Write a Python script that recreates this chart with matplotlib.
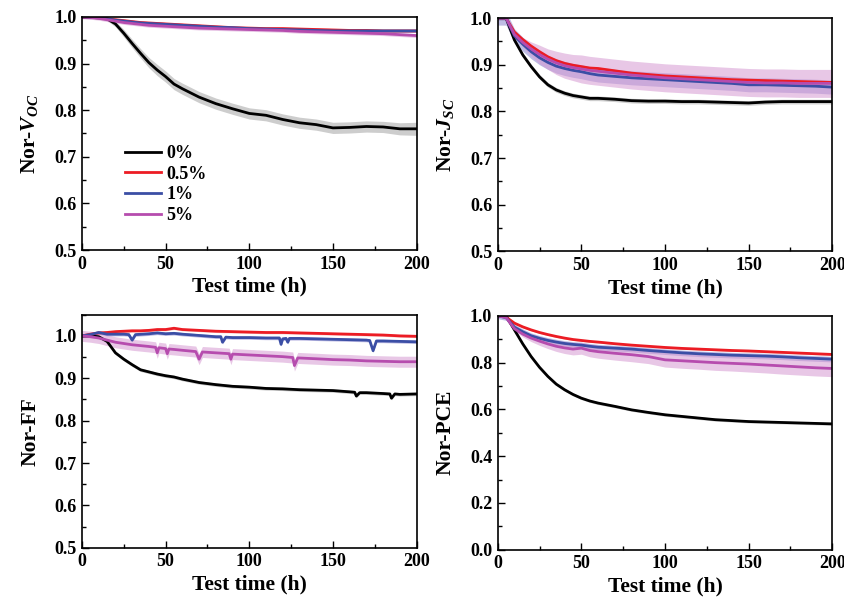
import numpy as np
import matplotlib
matplotlib.use("Agg")
import matplotlib.pyplot as plt
from matplotlib.ticker import MultipleLocator

plt.rcParams["font.family"] = "Liberation Serif"
plt.rcParams["font.weight"] = "bold"
plt.rcParams["mathtext.fontset"] = "custom"
plt.rcParams["mathtext.it"] = "Liberation Serif:bold:italic"
plt.rcParams["mathtext.rm"] = "Liberation Serif:bold"

LABELS = ["0%", "0.5%", "1%", "5%"]
COLORS = ["black", "#ec1c24", "#3b4ea5", "#b64cae"]
BAND_COLORS = ["#a4a4a4", "#f08a8a", "#8a86cf", "#d69ad2"]

T = [0, 5, 10, 15, 20, 25, 30, 35, 40, 45, 50, 55, 60, 70, 80, 90, 100,
     110, 120, 130, 140, 150, 160, 170, 180, 190, 200]

# --- normalised Voc ---
VOC_0 = [1.0, 1.0, 0.999, 0.996, 0.985, 0.965, 0.943, 0.922, 0.902, 0.886, 0.872, 0.856, 0.846, 0.828,
         0.814, 0.803, 0.793, 0.789, 0.780, 0.773, 0.769, 0.762, 0.763, 0.765, 0.764, 0.760, 0.760]
VOC_05 = [1.0, 0.999, 0.998, 0.996, 0.994, 0.992, 0.990, 0.988, 0.987, 0.986, 0.985, 0.984, 0.983, 0.981,
          0.979, 0.977, 0.976, 0.975, 0.975, 0.974, 0.973, 0.972, 0.971, 0.971, 0.970, 0.970, 0.970]
VOC_1 = [1.0, 0.999, 0.998, 0.996, 0.993, 0.991, 0.989, 0.987, 0.986, 0.985, 0.984, 0.983, 0.982, 0.980,
         0.978, 0.977, 0.975, 0.974, 0.973, 0.972, 0.971, 0.970, 0.970, 0.970, 0.970, 0.970, 0.970]
VOC_5 = [1.0, 0.999, 0.997, 0.994, 0.991, 0.988, 0.986, 0.984, 0.982, 0.981, 0.980, 0.979, 0.978, 0.976,
         0.975, 0.974, 0.973, 0.972, 0.971, 0.969, 0.968, 0.967, 0.966, 0.965, 0.964, 0.962, 0.960]
VOC_ERR_0 = [0, 0.001, 0.002, 0.004, 0.006, 0.008, 0.009, 0.010, 0.011, 0.012, 0.012, 0.012, 0.012, 0.012,
             0.012, 0.012, 0.012, 0.012, 0.012, 0.012, 0.012, 0.012, 0.012, 0.012, 0.012, 0.013, 0.014]
VOC_ERR = [VOC_ERR_0, 0.003, 0.003, 0.004]

# --- normalised Jsc ---
JSC_0 = [1.0, 1.0, 0.953, 0.921, 0.896, 0.874, 0.857, 0.846, 0.839, 0.834, 0.831, 0.828, 0.828, 0.826,
         0.823, 0.822, 0.822, 0.821, 0.821, 0.820, 0.819, 0.818, 0.820, 0.821, 0.821, 0.821, 0.821]
JSC_05 = [1.0, 1.0, 0.970, 0.954, 0.940, 0.928, 0.917, 0.909, 0.903, 0.899, 0.896, 0.893, 0.892, 0.887,
          0.882, 0.879, 0.876, 0.874, 0.872, 0.870, 0.868, 0.867, 0.866, 0.865, 0.864, 0.863, 0.862]
JSC_1 = [1.0, 1.0, 0.962, 0.944, 0.928, 0.915, 0.905, 0.897, 0.892, 0.888, 0.885, 0.881, 0.878, 0.875,
         0.872, 0.870, 0.868, 0.866, 0.864, 0.862, 0.860, 0.857, 0.857, 0.856, 0.855, 0.854, 0.852]
JSC_5 = [1.0, 1.0, 0.965, 0.948, 0.934, 0.922, 0.912, 0.904, 0.898, 0.894, 0.891, 0.888, 0.886, 0.882,
         0.878, 0.875, 0.872, 0.870, 0.868, 0.866, 0.864, 0.862, 0.861, 0.861, 0.860, 0.860, 0.860]
JSC_ERR_5 = [0, 0, 0.005, 0.010, 0.015, 0.020, 0.022, 0.025, 0.027, 0.028, 0.030, 0.030, 0.030, 0.030,
             0.030, 0.030, 0.030, 0.030, 0.030, 0.030, 0.030, 0.030, 0.030, 0.030, 0.030, 0.030, 0.030]
JSC_ERR = [0.005, 0.003, 0.015, JSC_ERR_5]

# --- normalised FF (own time grids, they hold the dips) ---
FF_T_0 = [0, 5, 10, 15, 20, 25, 30, 35, 40, 45, 50, 55, 60, 70, 80, 90, 100, 110, 120, 130, 140, 150,
          160, 163, 164, 166, 170, 180, 184, 185, 187, 190, 200]
FF_0 = [1.0, 1.0, 0.998, 0.987, 0.960, 0.945, 0.932, 0.920, 0.915, 0.910, 0.906, 0.903, 0.898, 0.890,
        0.885, 0.881, 0.879, 0.876, 0.875, 0.873, 0.872, 0.871, 0.868, 0.867, 0.858, 0.866, 0.866, 0.864,
        0.863, 0.853, 0.863, 0.862, 0.863]
FF_T_05 = T
FF_05 = [1.0, 1.004, 1.007, 1.008, 1.010, 1.011, 1.012, 1.012, 1.013, 1.015, 1.015, 1.018, 1.015, 1.013,
         1.011, 1.010, 1.009, 1.008, 1.008, 1.007, 1.006, 1.005, 1.004, 1.003, 1.002, 1.000, 0.999]
FF_T_1 = [0, 5, 10, 15, 20, 25, 28, 30, 32, 40, 45, 50, 55, 60, 70, 80, 83, 84, 86, 90, 100, 110, 118,
          119, 120, 122, 123, 124, 130, 140, 150, 160, 170, 172, 174, 176, 180, 190, 200]
FF_1 = [1.0, 1.003, 1.008, 1.004, 1.004, 1.004, 1.003, 0.990, 1.003, 1.005, 1.007, 1.005, 1.006, 1.004,
        1.001, 0.998, 0.998, 0.985, 0.997, 0.996, 0.996, 0.995, 0.995, 0.980, 0.993, 0.994, 0.985, 0.994,
        0.994, 0.993, 0.992, 0.991, 0.990, 0.989, 0.965, 0.988, 0.988, 0.987, 0.986]
FF_T_5 = [0, 5, 10, 15, 20, 30, 40, 44, 45, 46, 50, 51, 52, 55, 60, 68, 70, 72, 80, 88, 89, 90, 100,
          110, 120, 126, 127, 129, 140, 150, 160, 170, 180, 190, 200]
FF_5 = [1.0, 0.998, 0.995, 0.990, 0.985, 0.979, 0.975, 0.973, 0.960, 0.972, 0.970, 0.958, 0.969, 0.968,
        0.966, 0.963, 0.945, 0.962, 0.960, 0.958, 0.945, 0.957, 0.955, 0.953, 0.951, 0.949, 0.930, 0.948,
        0.946, 0.944, 0.943, 0.941, 0.940, 0.939, 0.939]
FF_ERR = [0.004, 0.003, 0.004, 0.013]

# --- normalised PCE ---
PCE_0 = [1.0, 1.0, 0.940, 0.880, 0.826, 0.780, 0.741, 0.708, 0.684, 0.664, 0.648, 0.636, 0.627, 0.613,
         0.598, 0.587, 0.577, 0.570, 0.563, 0.556, 0.552, 0.548, 0.546, 0.544, 0.542, 0.540, 0.538]
PCE_05 = [1.0, 0.995, 0.969, 0.953, 0.940, 0.929, 0.920, 0.912, 0.905, 0.899, 0.895, 0.891, 0.888, 0.881,
          0.875, 0.870, 0.865, 0.861, 0.858, 0.855, 0.852, 0.850, 0.847, 0.844, 0.841, 0.838, 0.835]
PCE_1 = [1.0, 0.993, 0.952, 0.932, 0.915, 0.904, 0.895, 0.888, 0.882, 0.878, 0.875, 0.870, 0.866, 0.862,
         0.858, 0.852, 0.847, 0.842, 0.838, 0.835, 0.832, 0.830, 0.828, 0.825, 0.821, 0.818, 0.815]
PCE_5 = [1.0, 0.993, 0.945, 0.922, 0.905, 0.892, 0.880, 0.870, 0.863, 0.858, 0.862, 0.852, 0.847, 0.840,
         0.834, 0.826, 0.812, 0.808, 0.804, 0.800, 0.797, 0.794, 0.790, 0.786, 0.782, 0.778, 0.775]
PCE_ERR_5 = [0, 0.003, 0.008, 0.012, 0.015, 0.018, 0.020, 0.022, 0.024, 0.025, 0.026, 0.027, 0.028, 0.029,
             0.030, 0.030, 0.031, 0.032, 0.032, 0.033, 0.033, 0.034, 0.034, 0.035, 0.035, 0.035, 0.035]
PCE_ERR = [0.006, 0.004, 0.012, PCE_ERR_5]

panels = [
    ("Nor-$V_{OC}$", [T] * 4, [VOC_0, VOC_05, VOC_1, VOC_5], VOC_ERR, (0.5, 1.0), 0.1),
    ("Nor-$J_{SC}$", [T] * 4, [JSC_0, JSC_05, JSC_1, JSC_5], JSC_ERR, (0.5, 1.0), 0.1),
    ("Nor-FF", [FF_T_0, FF_T_05, FF_T_1, FF_T_5], [FF_0, FF_05, FF_1, FF_5], FF_ERR, (0.5, 1.05), 0.1),
    ("Nor-PCE", [T] * 4, [PCE_0, PCE_05, PCE_1, PCE_5], PCE_ERR, (0.0, 1.0), 0.2),
]
rects = [[0.097, 0.586, 0.396, 0.386], [0.589, 0.584, 0.396, 0.386],
         [0.097, 0.093, 0.396, 0.386], [0.589, 0.090, 0.396, 0.387]]

fig = plt.figure(figsize=(8.45, 6.04), dpi=100)
for (ylab, ts, ys, errs, ylim, ystep), rect in zip(panels, rects):
    ax = fig.add_axes(rect)
    for t, y, e, bc in zip(ts, ys, errs, BAND_COLORS):
        t = np.array(t); y = np.array(y); e = np.broadcast_to(np.array(e, float), y.shape)
        ax.fill_between(t, y - e, y + e, color=bc, alpha=0.55, lw=0)
    for t, y, c, lab in zip(ts, ys, COLORS, LABELS):
        ax.plot(t, y, color=c, lw=2, label=lab)
    ax.set_xlim(0, 200); ax.set_ylim(*ylim)
    ax.xaxis.set_major_locator(MultipleLocator(50)); ax.xaxis.set_minor_locator(MultipleLocator(25))
    ax.yaxis.set_major_locator(MultipleLocator(ystep)); ax.yaxis.set_minor_locator(MultipleLocator(ystep / 2))
    ax.tick_params(which="both", direction="in", labelsize=13, width=1, pad=4)
    ax.tick_params(which="major", length=5); ax.tick_params(which="minor", length=3)
    for s in ax.spines.values():
        s.set_linewidth(1.2)
    ax.set_xlabel("Test time (h)", fontsize=15.5, fontweight="bold", labelpad=3)
    ax.set_ylabel(ylab, fontsize=15.5, fontweight="bold", labelpad=10)
    if ylab.startswith("Nor-$V"):
        ax.legend(loc="upper left", bbox_to_anchor=(0.08, 0.52), frameon=False, fontsize=13,
                  handlelength=2.0, labelspacing=0.2, handletextpad=0.3)

fig.savefig("out.png", dpi=100)
